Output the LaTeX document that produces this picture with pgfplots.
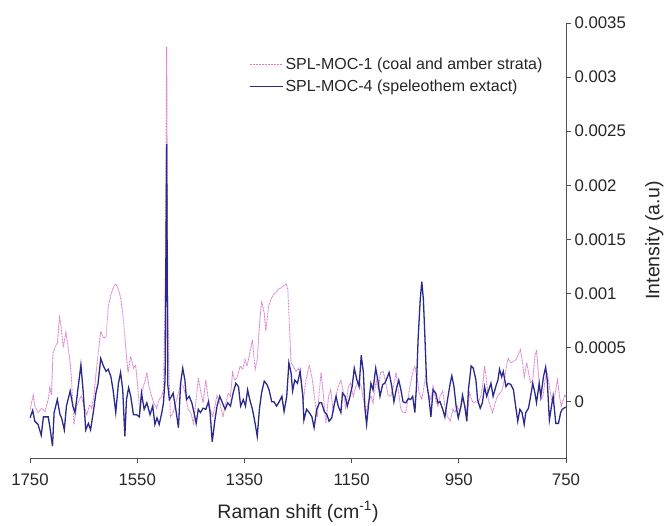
\documentclass[border=0pt]{standalone}
\usepackage{pgfplots}
\pgfplotsset{compat=1.18}
\usepackage{fontspec}
\setmainfont{Liberation Sans}

\definecolor{pinkline}{RGB}{216,124,204}
\definecolor{navyline}{RGB}{42,42,140}
\definecolor{axisgray}{RGB}{80,80,80}

\begin{document}
\begin{tikzpicture}
\begin{axis}[
    name=ax,
    scale only axis,
    width=536pt, height=435pt,
    x dir=reverse,
    xmin=750, xmax=1750,
    ymin=-0.00052, ymax=0.0035,
    axis x line=bottom,
    axis y line=right,
    axis line style={-, axisgray, line width=0.9pt},
    tick style={axisgray, line width=0.9pt},
    tick align=outside,
    major tick length=5pt,
    scaled y ticks=false,
    xtick={750,950,1150,1350,1550,1750},
    xticklabels={750,950,1150,1350,1550,1750},
    ytick={0,0.0005,0.001,0.0015,0.002,0.0025,0.003,0.0035},
    yticklabels={0,0.0005,0.001,0.0015,0.002,0.0025,0.003,0.0035},
    tick label style={font=\fontsize{16.8}{20}\selectfont, text=black!85},
    xticklabel style={yshift=-7pt},
    xlabel={Raman shift (cm\textsuperscript{-1})},
    ylabel={Intensity (a.u)},
    label style={font=\fontsize{19.5}{23}\selectfont, text=black!85},
    xlabel style={at={(axis description cs:0.5,-0.124)}, anchor=center},
    ylabel style={at={(axis description cs:1.165,0.5)}, anchor=center,
                  rotate=0, inner sep=0pt},
    legend style={at={(axis description cs:0.403,0.93)}, anchor=north west,
                  draw=none, fill=none, font=\fontsize{16}{19}\selectfont,
                  text=black!85, row sep=5pt},
    legend cell align=left,
    legend image code/.code={\draw[#1] (0pt,0pt) -- (33pt,0pt);},
]
% SPL-MOC-1 (coal and amber strata)
\addplot[pinkline, line width=0.9pt, dash pattern=on 0.9pt off 0.6pt] table {
1750 -0.00008
1747 -0.00001
1744 0.00006
1741 -0.00004
1735 -0.00010
1728 -0.00006
1722 -0.00009
1716 0.00002
1713 0.00013
1710 0.00006
1707 0.00045
1703 0.00051
1699 0.00054
1695 0.00078
1692 0.00070
1688 0.00050
1683 0.00064
1680 0.00054
1675 0.00036
1672 0.00017
1668 -0.00021
1663 -0.00004
1658 0.00002
1654 0.00005
1649 -0.00004
1644 -0.00012
1639 -0.00003
1635 -0.00006
1631 0.00005
1626 0.00030
1622 0.00048
1618 0.00065
1613 0.00059
1608 0.00060
1604 0.00088
1599 0.00099
1595 0.00105
1590 0.00109
1585 0.00104
1581 0.00096
1577 0.00082
1573 0.00060
1570 0.00042
1567 0.00027
1562 0.00042
1557 0.00031
1553 0.00034
1549 0.00014
1545 -0.00010
1540 0.00011
1535 0.00020
1532 0.00027
1528 0.00014
1523 0.00005
1519 -0.00001
1514 -0.00006
1509 0.00002
1504 0.00005
1501 0.00011
1498 0.00094
1495 0.00328
1493 0.00094
1490 0.00014
1488 -0.00014
1483 -0.00010
1478 -0.00001
1473 0.00008
1469 0.00017
1464 0.00014
1459 0.00005
1455 -0.00007
1450 -0.00010
1445 -0.00020
1440 0.00002
1436 0.00022
1432 0.00011
1427 -0.00001
1422 0.00020
1418 0.00005
1414 -0.00007
1409 -0.00014
1405 -0.00004
1401 0.00006
1396 -0.00001
1390 -0.00014
1386 -0.00004
1380 0.00008
1376 0.00005
1372 0.00027
1368 0.00020
1363 0.00023
1358 0.00033
1353 0.00030
1349 0.00039
1345 0.00033
1340 0.00045
1335 0.00057
1330 0.00030
1326 0.00039
1322 0.00070
1318 0.00093
1313 0.00082
1310 0.00065
1305 0.00088
1301 0.00094
1296 0.00099
1291 0.00101
1287 0.00104
1282 0.00105
1277 0.00107
1272 0.00109
1269 0.00104
1266 0.00070
1263 0.00036
1259 0.00033
1254 0.00028
1249 0.00031
1245 0.00023
1240 0.00002
1235 0.00020
1229 0.00034
1223 0.00020
1218 -0.00001
1214 -0.00014
1210 0.00011
1207 0.00027
1203 0.00008
1198 -0.00020
1193 0.00005
1189 0.00011
1184 -0.00010
1179 0.00005
1175 0.00014
1170 0.00020
1165 0.00008
1161 -0.00007
1156 0.00014
1152 0.00017
1147 0.00005
1142 0.00014
1137 0.00020
1132 0.00014
1128 0.00002
1123 -0.00010
1119 -0.00001
1114 0.00005
1110 -0.00001
1104 0.00020
1100 0.00011
1096 0.00027
1091 0.00028
1086 0.00017
1082 0.00006
1077 0.00005
1072 0.00014
1067 0.00027
1063 0.00011
1058 -0.00007
1054 -0.00010
1049 -0.00010
1044 0.00005
1040 0.00017
1036 0.00027
1032 0.00033
1027 0.00020
1024 0.00008
1019 0.00002
1015 0.00014
1011 0.00027
1007 0.00008
1002 0.00002
998 0.00014
993 0.00002
989 -0.00004
985 0.00005
980 0.00010
976 -0.00004
971 -0.00014
966 -0.00018
961 -0.00007
957 -0.00010
953 -0.00004
948 -0.00010
943 0.00002
938 -0.00004
934 -0.00010
930 0.00008
926 0.00002
923 -0.00001
918 0.00000
914 -0.00001
909 0.00005
905 0.00017
902 0.00033
899 0.00023
895 0.00002
890 -0.00006
887 -0.00010
882 -0.00001
878 0.00005
873 0.00008
869 0.00011
865 0.00020
861 0.00033
858 0.00040
853 0.00036
849 0.00037
843 0.00039
839 0.00044
835 0.00048
831 0.00036
828 0.00023
823 0.00036
820 0.00027
816 0.00017
812 0.00020
808 0.00042
805 0.00048
801 0.00023
797 0.00002
793 0.00005
789 0.00020
785 0.00027
781 0.00014
777 0.00002
774 -0.00001
770 0.00008
766 0.00020
762 0.00005
759 -0.00004
755 0.00002
752 0.00006
750 0.00004
};
\addlegendentry{SPL-MOC-1 (coal and amber strata)}
% SPL-MOC-4 (speleothem extact)
\addplot[navyline, line width=1.3pt] table {
1750 -0.00015
1745 -0.00008
1741 -0.00018
1735 -0.00021
1729 -0.00031
1725 -0.00014
1716 -0.00014
1713 -0.00023
1708 -0.00041
1705 -0.00010
1699 0.00002
1694 -0.00012
1691 -0.00015
1686 -0.00026
1682 -0.00004
1675 0.00010
1670 -0.00004
1666 -0.00010
1660 0.00014
1655 0.00034
1651 0.00011
1646 -0.00026
1641 -0.00020
1637 -0.00026
1632 -0.00010
1627 0.00008
1623 0.00017
1618 0.00040
1613 0.00033
1608 0.00028
1604 0.00030
1599 0.00023
1595 0.00011
1590 -0.00010
1585 0.00017
1581 0.00027
1577 0.00011
1573 -0.00032
1570 0.00002
1566 0.00013
1562 0.00005
1557 -0.00012
1551 -0.00012
1546 -0.00014
1542 0.00008
1537 -0.00007
1532 -0.00001
1526 -0.00012
1521 -0.00004
1517 -0.00021
1513 -0.00015
1509 -0.00021
1504 -0.00010
1501 -0.00001
1498 0.00020
1495 0.00238
1493 0.00016
1490 0.00002
1486 0.00005
1483 0.00008
1478 -0.00007
1473 -0.00024
1469 0.00017
1465 0.00031
1461 0.00020
1458 0.00002
1453 0.00005
1448 -0.00001
1444 -0.00010
1440 -0.00020
1436 -0.00007
1432 -0.00010
1427 -0.00006
1422 -0.00007
1417 0.00000
1414 -0.00010
1410 -0.00037
1405 -0.00017
1401 -0.00004
1396 0.00005
1391 -0.00001
1386 -0.00007
1381 -0.00001
1376 -0.00004
1371 0.00008
1366 0.00017
1361 0.00014
1357 -0.00004
1352 0.00002
1348 -0.00004
1344 0.00011
1340 0.00002
1335 -0.00007
1330 -0.00020
1326 -0.00032
1322 -0.00007
1318 0.00008
1313 0.00019
1308 0.00016
1304 0.00011
1299 0.00000
1295 0.00000
1290 -0.00004
1285 0.00000
1280 0.00005
1276 -0.00009
1271 0.00005
1267 0.00036
1263 0.00027
1260 0.00010
1256 0.00020
1251 0.00017
1246 0.00028
1241 0.00005
1239 -0.00017
1234 -0.00007
1229 -0.00010
1224 -0.00014
1220 -0.00024
1215 -0.00007
1210 -0.00001
1206 -0.00001
1201 -0.00009
1196 -0.00012
1192 -0.00018
1187 -0.00015
1183 -0.00004
1179 0.00005
1175 -0.00004
1170 -0.00010
1167 0.00008
1162 0.00005
1158 -0.00004
1153 0.00005
1149 0.00014
1145 0.00031
1140 0.00020
1136 0.00014
1132 0.00043
1128 0.00027
1125 -0.00007
1122 -0.00021
1118 -0.00001
1114 0.00017
1110 0.00011
1105 0.00031
1101 0.00020
1097 0.00005
1092 0.00016
1088 0.00017
1083 0.00023
1080 0.00027
1075 0.00014
1071 0.00000
1066 0.00013
1062 0.00020
1058 0.00011
1054 0.00000
1049 -0.00001
1044 0.00003
1040 0.00002
1036 0.00005
1032 -0.00010
1029 0.00014
1026 0.00057
1022 0.00094
1019 0.00111
1016 0.00094
1013 0.00057
1010 0.00017
1006 0.00005
1002 -0.00014
998 0.00011
993 0.00008
989 -0.00001
985 0.00000
980 -0.00007
976 -0.00014
971 0.00002
966 0.00017
963 0.00024
959 0.00014
955 -0.00004
951 -0.00015
946 -0.00004
943 0.00006
939 -0.00004
935 -0.00018
932 0.00011
927 0.00033
923 0.00031
918 0.00020
915 0.00002
910 -0.00006
906 -0.00001
902 0.00014
898 0.00005
894 0.00011
890 0.00017
886 0.00005
881 0.00014
877 0.00020
874 0.00030
870 0.00023
867 0.00028
862 0.00014
858 0.00017
853 0.00016
848 0.00011
844 -0.00004
840 -0.00018
836 -0.00007
832 -0.00010
828 -0.00021
825 -0.00010
820 -0.00006
816 0.00005
812 0.00017
808 0.00008
805 -0.00001
800 0.00017
797 0.00005
792 0.00023
788 0.00032
785 0.00020
781 -0.00017
777 -0.00004
774 0.00005
769 -0.00020
764 -0.00020
760 -0.00010
757 -0.00007
754 -0.00006
750 -0.00005
};
\addlegendentry{SPL-MOC-4 (speleothem extact)}
\end{axis}
\path ([xshift=-30pt,yshift=-65pt]ax.south west) rectangle ([xshift=99pt,yshift=23pt]ax.north east);
\end{tikzpicture}
\end{document}
